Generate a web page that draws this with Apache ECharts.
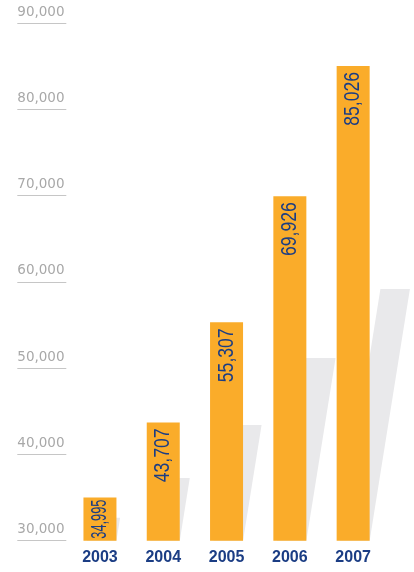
<!DOCTYPE html>
<html>
<head>
<meta charset="utf-8">
<script src="https://cdn.jsdelivr.net/npm/echarts@6/dist/echarts.min.js"></script>
<style>
  html, body { margin: 0; padding: 0; background: #ffffff; }
  #chart { width: 414px; height: 572px; }
</style>
</head>
<body>
<div id="chart"></div>
<script>
// Yearly totals
const years = ['2003', '2004', '2005', '2006', '2007'];
const totals = [34995, 43707, 55307, 69926, 85026];

// Value axis
const axisMin = 30000;
const axisMax = 90000;
const axisStep = 10000;

const ORANGE = '#FAAC2A';
const NAVY = '#1B3D84';
const SHADOW = '#E9E9EB';
const SHADOW_RATIO = 0.53;   // shadow height relative to bar height
const SHADOW_SLANT = 0.16;   // horizontal lean per pixel of shadow height

const VALUE_FONT_SIZE = 22;
const VALUE_FONT = VALUE_FONT_SIZE + "px 'Liberation Sans', Arial, sans-serif";
const VALUE_SQUEEZE = 0.8;   // condensed look for the in-bar numbers

const fmt = v => Number(v).toLocaleString('en-US');

const measureCtx = document.createElement('canvas').getContext('2d');
function textWidth(str, font) {
  measureCtx.font = font;
  return measureCtx.measureText(str).width;
}

const chart = echarts.init(document.getElementById('chart'), null, { renderer: 'canvas' });

// Slanted decorative shadow cast behind each bar
function renderShadow(params, api) {
  const idx = api.value(0);
  const top = api.coord([idx, api.value(1)]);
  const base = api.coord([idx, axisMin]);
  const h = (base[1] - top[1]) * SHADOW_RATIO;
  const shift = h * SHADOW_SLANT;
  const cx = base[0];
  const x0 = cx - 13, x1 = cx + 16.5;
  const y0 = base[1], y1 = base[1] - h;
  return {
    type: 'polygon',
    shape: { points: [[x0, y0], [x1, y0], [x1 + shift, y1], [x0 + shift, y1]] },
    style: { fill: SHADOW }
  };
}

// Vertical, condensed value written inside the top of each bar
function renderValue(params, api) {
  const idx = api.value(0);
  const val = api.value(1);
  const top = api.coord([idx, val]);
  const base = api.coord([idx, axisMin]);
  const text = fmt(val);
  const natural = textWidth(text, VALUE_FONT);
  const room = base[1] - top[1] - 4;
  let scale = VALUE_SQUEEZE;
  let gap = 6;
  if (natural * scale > room - gap) {
    gap = 2;
    scale = Math.min(scale, room / natural);
  }
  return {
    type: 'text',
    x: top[0],
    y: top[1] + gap,
    rotation: Math.PI / 2,
    scaleX: scale,
    style: {
      text: text,
      font: VALUE_FONT,
      fill: NAVY,
      align: 'right',
      verticalAlign: 'middle'
    },
    z2: 10
  };
}

chart.setOption({
  animation: false,
  grid: {
    left: 68.3,
    right: 29.2,
    top: 23,
    bottom: 31.3,
    containLabel: false,
    outerBoundsMode: 'none'
  },
  xAxis: {
    type: 'category',
    data: years,
    axisLine: { show: false },
    axisTick: { show: false },
    axisLabel: {
      color: NAVY,
      fontFamily: "'Liberation Sans', Arial, sans-serif",
      fontWeight: 'bold',
      fontSize: 16,
      margin: 9
    }
  },
  yAxis: {
    type: 'value',
    min: axisMin,
    max: axisMax,
    interval: axisStep,
    offset: 2,
    splitLine: { show: false },
    axisLine: { show: false },
    axisTick: {
      show: true,
      length: 49,
      lineStyle: { color: '#C6C6C6', width: 1.2 }
    },
    axisLabel: {
      showMinLabel: true,
      showMaxLabel: true,
      align: 'left',
      verticalAlign: 'bottom',
      margin: 49,
      padding: [0, 0, 4, 0],
      color: '#A8A8A8',
      fontFamily: "'DejaVu Sans', sans-serif",
      fontSize: 13.5,
      formatter: v => fmt(v)
    }
  },
  series: [
    {
      type: 'custom',
      renderItem: renderShadow,
      data: totals.map((v, i) => [i, v]),
      encode: { x: 0, y: 1 },
      z: 1,
      silent: true
    },
    {
      type: 'bar',
      data: totals,
      barWidth: 33,
      z: 2,
      itemStyle: { color: ORANGE }
    },
    {
      type: 'custom',
      renderItem: renderValue,
      data: totals.map((v, i) => [i, v]),
      encode: { x: 0, y: 1 },
      z: 3,
      silent: true
    }
  ]
});
</script>
</body>
</html>
